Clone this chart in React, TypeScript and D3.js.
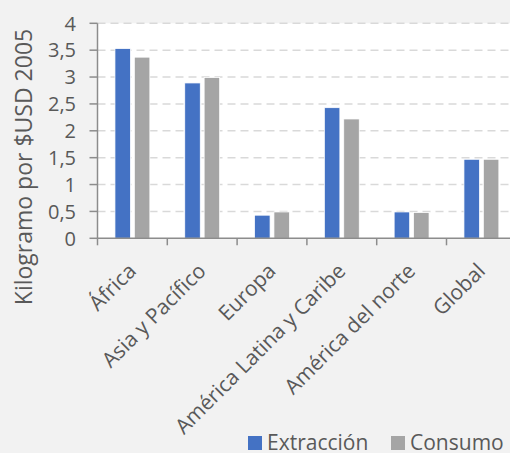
import React from "react";
import * as d3 from "d3";

const categories = [
  "África",
  "Asia y Pacífico",
  "Europa",
  "América Latina y Caribe",
  "América del norte",
  "Global",
];
const seriesNames = ["Extracción", "Consumo"];
const extraccion = [3.53, 2.89, 0.43, 2.43, 0.49, 1.47];
const consumo = [3.37, 2.99, 0.49, 2.22, 0.48, 1.47];
const yTicks = [0, 0.5, 1, 1.5, 2, 2.5, 3, 3.5, 4];
const colors = ["#4472c4", "#a5a5a5"];

const W = 510;
const H = 453;
const left = 97.5;
const top = 23.3;
const bottom = 238.3;
const step = 69.8;
const right = left + step * categories.length;
const font = "'Open Sans', 'Noto Sans', sans-serif";
const textColor = "#595959";
const axisColor = "#8c8c8c";

export default function App() {
  const x = d3.scaleBand<string>().domain(categories).range([left, right]);
  const xs = d3
    .scaleBand<string>()
    .domain(seriesNames)
    .range([0, x.bandwidth()])
    .paddingInner(0.2)
    .paddingOuter(0.9);
  const y = d3.scaleLinear().domain([0, 4]).range([bottom, top]);
  const series = [extraccion, consumo];
  const fmt = (v: number) => String(v).replace(".", ",");

  return (
    <svg
      width={W}
      height={H}
      style={{ position: "absolute", left: 0, top: 0, display: "block" }}
      fontFamily={font}
    >
      <rect x={0} y={0} width={W} height={H} fill="#f2f2f2" />
      <rect x={left} y={top} width={right - left} height={bottom - top} fill="#ffffff" />

      {/* horizontal gridlines */}
      {yTicks.slice(1).map((t) => (
        <line
          key={"g" + t}
          x1={left}
          x2={right}
          y1={y(t)}
          y2={y(t)}
          stroke="#d9d9d9"
          strokeWidth={1.5}
          strokeDasharray="8,5"
        />
      ))}

      {/* bars */}
      {series.map((vals, si) =>
        categories.map((c, ci) => (
          <rect
            key={si + "-" + c}
            x={(x(c) ?? 0) + (xs(seriesNames[si]) ?? 0)}
            y={y(vals[ci])}
            width={xs.bandwidth()}
            height={bottom - y(vals[ci])}
            fill={colors[si]}
            stroke="#ffffff"
            strokeWidth={0.75}
          />
        ))
      )}

      {/* y axis */}
      <line x1={left} x2={left} y1={top} y2={bottom} stroke={axisColor} strokeWidth={1.5} />
      {yTicks.map((t) => (
        <g key={"y" + t}>
          <line x1={left - 8} x2={left} y1={y(t)} y2={y(t)} stroke={axisColor} strokeWidth={1.5} />
          <text
            x={76}
            y={y(t)}
            dy="0.36em"
            textAnchor="end"
            fontSize={20}
            fill={textColor}
          >
            {fmt(t)}
          </text>
        </g>
      ))}

      {/* x axis */}
      <line x1={left} x2={right} y1={bottom} y2={bottom} stroke={axisColor} strokeWidth={1.5} />
      {categories.map((c) => (
        <line
          key={"xt" + c}
          x1={x(c) ?? 0}
          x2={x(c) ?? 0}
          y1={bottom}
          y2={bottom + 7}
          stroke={axisColor}
          strokeWidth={1.5}
        />
      ))}
      {categories.map((c) => {
        const cx = (x(c) ?? 0) + x.bandwidth() / 2 + 5;
        const cy = bottom + 34;
        return (
          <text
            key={"xl" + c}
            transform={`translate(${cx},${cy}) rotate(-45)`}
            textAnchor="end"
            fontSize={21}
            fill={textColor}
          >
            {c}
          </text>
        );
      })}

      {/* y axis title */}
      <text
        transform={`translate(32,167) rotate(-90)`}
        textAnchor="middle"
        fontSize={23}
        fill={textColor}
      >
        Kilogramo por $USD 2005
      </text>

      {/* legend */}
      {seriesNames.map((s, i) => {
        const lx = i === 0 ? 248 : 391;
        return (
          <g key={"lg" + s}>
            <rect x={lx} y={436} width={14} height={14} fill={colors[i]} />
            <text x={lx + 19} y={450} fontSize={21} fill={textColor}>
              {s}
            </text>
          </g>
        );
      })}
    </svg>
  );
}
